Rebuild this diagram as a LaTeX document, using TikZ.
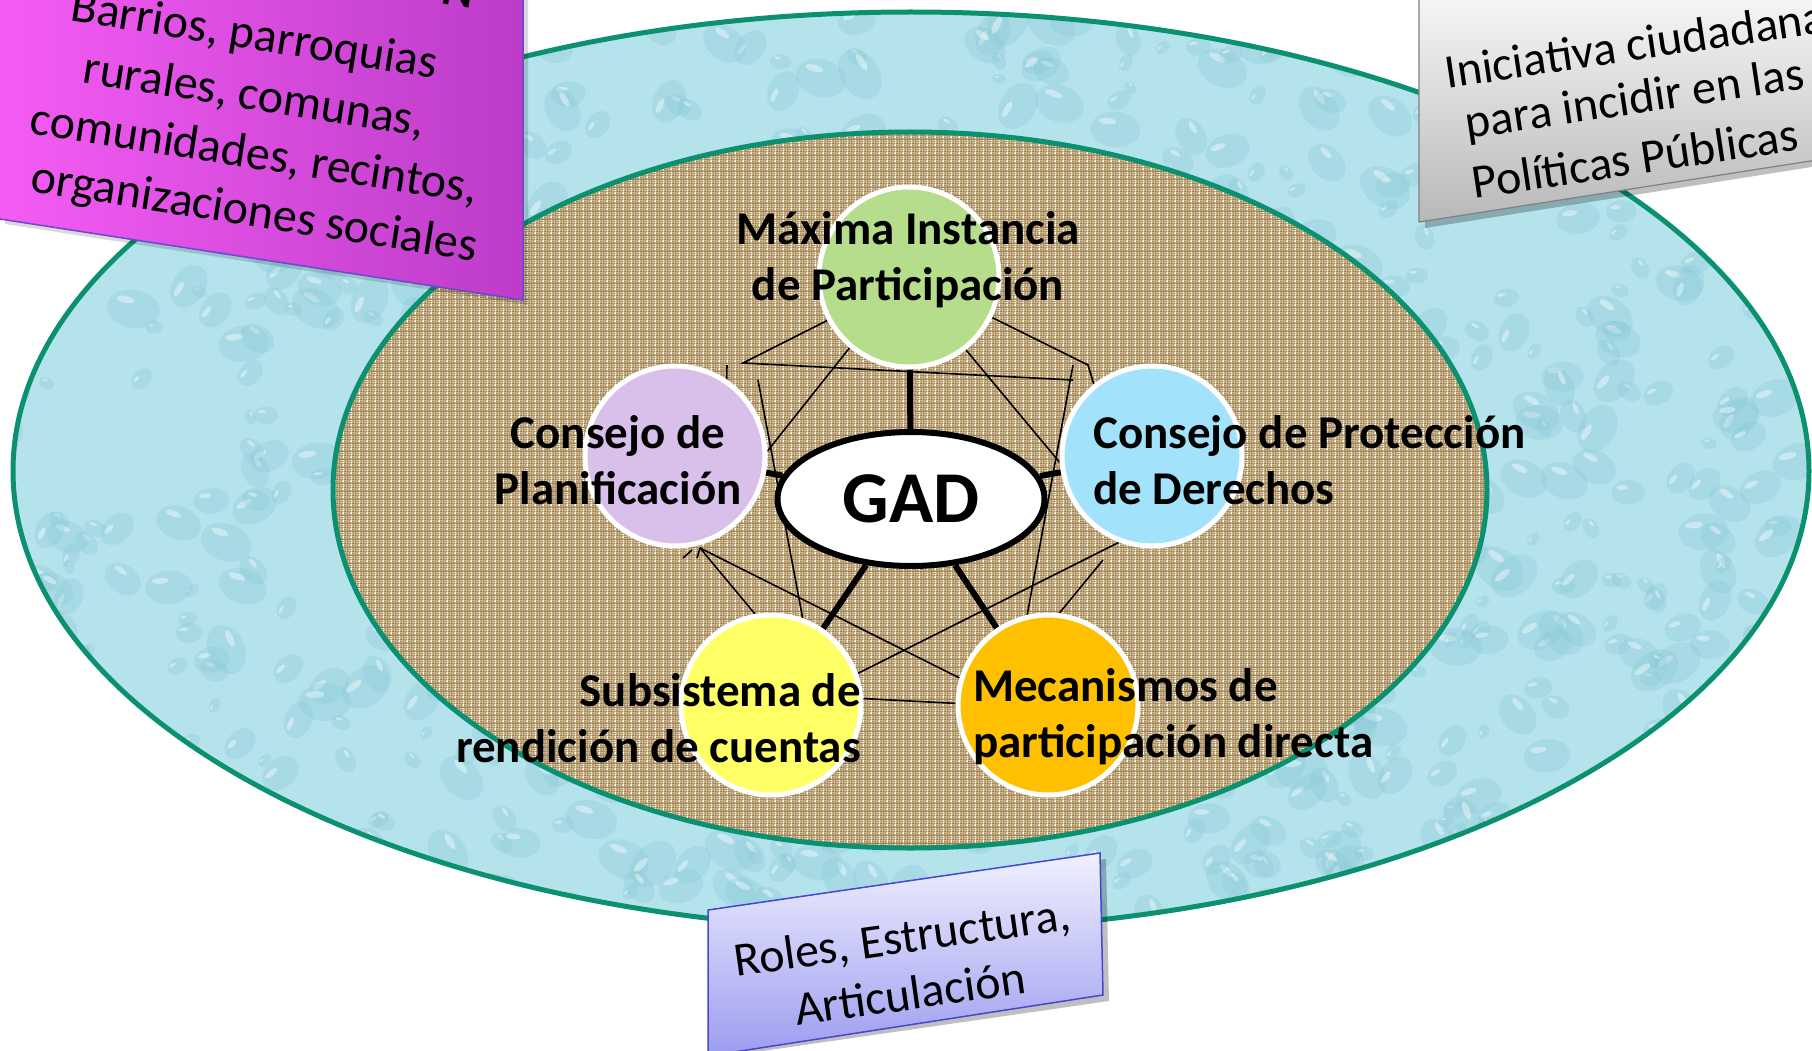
\documentclass[tikz,border=0pt]{standalone}
\usepackage{fontspec}
\setmainfont{Carlito}
\usetikzlibrary{shapes.geometric,patterns.meta}
\definecolor{ringgreen}{HTML}{0B9070}
\definecolor{water}{HTML}{B4E3EC}
\definecolor{dropdark}{HTML}{86C6D4}
\definecolor{burlap}{HTML}{9C825A}
\definecolor{burlaplight}{HTML}{D8C497}
\definecolor{cgreen}{HTML}{B5DD8C}
\definecolor{cpurple}{HTML}{D9C0EA}
\definecolor{cblue}{HTML}{A2E3FB}
\definecolor{cyellow}{HTML}{FFFF66}
\definecolor{corange}{HTML}{FFC000}
\definecolor{magL}{HTML}{F45CF4}
\definecolor{magR}{HTML}{BC3CC8}
\definecolor{magEdge}{HTML}{6A48D0}
\definecolor{grayTop}{HTML}{F6F6F6}
\definecolor{grayBot}{HTML}{B8B8B8}
\definecolor{lavTop}{HTML}{F0F0FF}
\definecolor{lavBot}{HTML}{9C9CF0}
\definecolor{lavEdge}{HTML}{4646D0}
\tikzdeclarepattern{
  name=weave,
  type=colored,
  tile size={(8pt,8pt)},
  bounding box={(0pt,0pt) and (8pt,8pt)},
  code={
    \fill[burlaplight] (0.3pt,0.4pt) rectangle (3.7pt,1.6pt);
    \fill[burlaplight] (0.3pt,2.4pt) rectangle (3.7pt,3.6pt);
    \fill[burlaplight] (4.4pt,0.3pt) rectangle (5.6pt,3.7pt);
    \fill[burlaplight] (6.4pt,0.3pt) rectangle (7.6pt,3.7pt);
    \fill[burlaplight] (0.4pt,4.3pt) rectangle (1.6pt,7.7pt);
    \fill[burlaplight] (2.4pt,4.3pt) rectangle (3.6pt,7.7pt);
    \fill[burlaplight] (4.3pt,4.4pt) rectangle (7.7pt,5.6pt);
    \fill[burlaplight] (4.3pt,6.4pt) rectangle (7.7pt,7.6pt);
  }
}
\pgfdeclarelayer{back}
\pgfdeclarelayer{mid}
\pgfsetlayers{back,mid,main}
\begin{document}
\begin{tikzpicture}[x=1pt,y=-1pt,
  bubble/.style={circle,minimum size=180pt,inner sep=0pt,draw=white,line width=5pt},
  lbl/.style={inner sep=0pt,font=\fontsize{47}{56}\selectfont\bfseries},
  netline/.style={line width=1.6pt,draw=black},
  hub/.style={line width=6pt,draw=black},
  boxtxt/.style={inner sep=0pt,align=center,font=\fontsize{48}{57}\selectfont},
  ring/.style={draw=ringgreen,line width=5pt}]

\useasboundingbox (0,0) rectangle (1812,1051);

% circles and hub
\node[bubble,fill=cgreen]  (mip) at (909,277) {};
\node[bubble,fill=cpurple] (cp)  at (675,456) {};
\node[bubble,fill=cblue]   (cpd) at (1152,456) {};
\node[bubble,fill=cyellow] (src) at (771,705) {};
\node[bubble,fill=corange] (mpd) at (1048,705) {};
\node[ellipse,draw=black,line width=6pt,fill=white,minimum width=267pt,minimum height=134pt,inner sep=0pt,
      font=\fontsize{73}{80}\selectfont\bfseries] (gad) at (911,499) {GAD};

% labels
\node[lbl,align=center] (mipL) at (908,260) {Máxima Instancia\\de Participación};
\node[lbl,align=center] (cpL)  at (618,460) {Consejo de\\Planificación};
\node[lbl,align=left,anchor=west]  (cpdL) at (1093,460) {Consejo de Protección\\de Derechos};
\node[lbl,align=right,anchor=east] (srcL) at (861,718) {Subsistema de\\rendición de cuentas};
\node[lbl,align=left,anchor=west]  (mpdL) at (973,717) {Mecanismos de\\participación directa};

\begin{pgfonlayer}{back}
  \fill[water] (911,471) ellipse [x radius=898pt,y radius=459pt];
  \begin{scope}
    \clip (911,471) ellipse [x radius=898pt,y radius=459pt];
    \pgfmathsetseed{17}
    \foreach \i in {1,...,900} {
      \pgfmathsetmacro{\dx}{rnd*1812}
      \pgfmathsetmacro{\dy}{rnd*940}
      \pgfmathsetmacro{\dr}{7+rnd*20}
      \pgfmathsetmacro{\da}{-70+rnd*140}
      \fill[dropdark,opacity=0.28,rotate around={\da:(\dx,\dy)}] (\dx,\dy) ellipse [x radius=\dr pt,y radius=0.72*\dr pt];
      \fill[white,opacity=0.4,rotate around={\da:(\dx,\dy)}] (\dx-0.35*\dr,\dy-0.3*\dr) ellipse [x radius=0.35*\dr pt,y radius=0.13*\dr pt];
    }
  \end{scope}
  \draw[ring] (911,471) ellipse [x radius=898pt,y radius=459pt];
  \fill[burlap] (910,490) ellipse [x radius=577pt,y radius=358pt];
  \fill[pattern=weave] (910,490) ellipse [x radius=577pt,y radius=358pt];
  \draw[ring] (910,490) ellipse [x radius=577pt,y radius=358pt];
  % magenta box
  \fill[black,opacity=0.15] (5,-5) -- (528,-5) -- (528,305) -- (5,224) -- cycle;
  \shade[left color=magL,right color=magR] (0,-5) -- (523,-5) -- (523,300) -- (0,219) -- cycle;
  \draw[magEdge,line width=1.5pt] (0,219) -- (523,300) -- (523,-5);
  % gray box
  \fill[black,opacity=0.25] (1425,-5) -- (1818,-5) -- (1818,166) -- (1425,228) -- cycle;
  \shade[top color=grayTop,bottom color=grayBot] (1419,-5) -- (1817,-5) -- (1817,160) -- (1419,222) -- cycle;
  \draw[gray,line width=1.2pt] (1419,-5) -- (1419,222) -- (1817,160);
  % lavender box
  \fill[black,opacity=0.25] (714,916) -- (1106,859) -- (1109,1001) -- (714,1058) -- cycle;
  \shade[top color=lavTop,bottom color=lavBot] (708,910) -- (1100,853) -- (1103,995) -- (708,1056) -- cycle;
  \draw[lavEdge,line width=1.5pt] (708,1056) -- (708,910) -- (1100,853) -- (1103,995) -- (708,1056);
\end{pgfonlayer}

% box texts
\node[boxtxt,rotate=-9] (magT1) at (254,37) {Barrios, parroquias};
\node[boxtxt,rotate=-9] (magT2) at (254,96) {rurales, comunas,};
\node[boxtxt,rotate=-9] (magT3) at (254,155) {comunidades, recintos,};
\node[boxtxt,rotate=-9] (magT4) at (254,214) {organizaciones sociales};
\node[inner sep=0pt,rotate=-9,anchor=base east,font=\fontsize{48}{57}\selectfont\bfseries] (magH) at (472,8) {ÓN};
\node[boxtxt,rotate=8.5] (grayT1) at (1635,44) {Iniciativa ciudadana};
\node[boxtxt,rotate=8.5] (grayT2) at (1635,101) {para incidir en las};
\node[boxtxt,rotate=8.5] (grayT3) at (1635,158) {Políticas Públicas};
\node[boxtxt,rotate=8] (rolesT) at (906,965) {Roles, Estructura,\\Articulación};

\begin{pgfonlayer}{mid}
  \coordinate (k1) at (743,363);
  \coordinate (k2) at (1073,380);
  \coordinate (k3) at (727,365);
  \coordinate (k4) at (758,380);
  \coordinate (k5) at (1088,365);
  \coordinate (k6) at (1073,365);
  \coordinate (k7) at (700,548);
  \coordinate (k8) at (1103,560);
  \coordinate (k9) at (683,558);
  \coordinate (k10) at (692,550);
  \coordinate (k11) at (697,558);
  \draw[netline] (mip.208) -- (k1) -- (k2);
  \draw[netline] (mip.230) -- (cp.3);
  \draw[netline] (cp.56) -- (k3);
  \draw[netline] (k4) -- (src.70);
  \draw[netline] (mip.-26) -- (k5) -- (cpd.129);
  \draw[netline] (mip.-52) -- (cpd.184);
  \draw[netline] (k6) -- (mpd.103);
  \draw[netline] (k7) -- (src.100);
  \draw[netline] (k7) -- (mpd.163);
  \draw[netline] (src.20) -- (cpd.249);
  \draw[netline] (src.4) -- (mpd.179);
  \draw[netline] (k8) -- (mpd.83);
  \draw[netline] (k9) -- (k10);
  \draw[netline] (k7) -- (k11);
  \draw[hub] (gad) -- (mip);
  \draw[hub] (gad) -- (cp);
  \draw[hub] (gad) -- (cpd);
  \draw[hub] (gad) -- (src);
  \draw[hub] (gad) -- (mpd);
\end{pgfonlayer}
\end{tikzpicture}
\end{document}
